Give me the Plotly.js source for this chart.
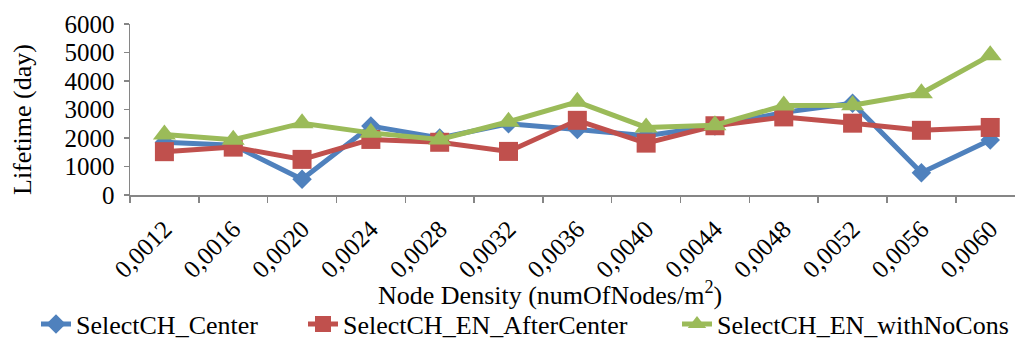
<!DOCTYPE html>
<html>
<head>
<meta charset="utf-8">
<script src="https://cdn.plot.ly/plotly-3.0.1.min.js"></script>
<style>html,body{margin:0;padding:0;background:#fff;}#chart{width:1016px;height:341px;}</style>
</head>
<body>
<div id="chart"></div>
<script>
const categories = ["0,0012","0,0016","0,0020","0,0024","0,0028","0,0032","0,0036","0,0040","0,0044","0,0048","0,0052","0,0056","0,0060"];
const selectCenter = [1850, 1750, 550, 2420, 2000, 2500, 2300, 2080, 2420, 2900, 3220, 780, 1930];
const selectAfterCenter = [1520, 1680, 1250, 1950, 1850, 1530, 2620, 1820, 2430, 2740, 2520, 2270, 2370];
const selectNoCons = [2120, 1940, 2520, 2180, 1950, 2570, 3270, 2370, 2450, 3140, 3150, 3570, 4900];
const seriesNames = ["SelectCH_Center", "SelectCH_EN_AfterCenter", "SelectCH_EN_withNoCons"];
const xTitle = "Node Density (numOfNodes/m<sup>2</sup>)";
const yTitle = "Lifetime (day)";

const font = {family: "Liberation Serif", color: "#000"};
const traces = [
  {x: categories, y: selectCenter, name: seriesNames[0], type: "scatter", mode: "lines+markers", legend: "legend",
   line: {color: "#4F81BD", width: 5}, marker: {symbol: "diamond", size: 15, color: "#4F81BD"}},
  {x: categories, y: selectAfterCenter, name: seriesNames[1], type: "scatter", mode: "lines+markers", legend: "legend2",
   line: {color: "#C0504D", width: 5}, marker: {symbol: "square", size: 19, color: "#C0504D"}},
  {x: categories, y: selectNoCons, name: seriesNames[2], type: "scatter", mode: "lines+markers", legend: "legend3",
   line: {color: "#9BBB59", width: 5}, marker: {symbol: "triangle-up", size: 20, color: "#9BBB59"}}
];
function leg(xpx) {
  return {orientation: "h", x: xpx / 1016, xanchor: "left", xref: "container", y: 17 / 341, yanchor: "middle",
          yref: "container", font: Object.assign({size: 26}, font), itemwidth: 30, bgcolor: "rgba(0,0,0,0)"};
}
const layout = {
  width: 1016, height: 341,
  margin: {l: 130, r: 1, t: 24, b: 146},
  paper_bgcolor: "#fff", plot_bgcolor: "#fff",
  font: Object.assign({size: 22}, font),
  showlegend: true,
  legend: leg(36), legend2: leg(303), legend3: leg(677),
  xaxis: {
    type: "category", range: [-0.5, 12.36], tickson: "boundaries",
    showline: true, linecolor: "#868686", linewidth: 1.5,
    ticks: "outside", ticklen: 6, tickcolor: "#868686", tickwidth: 1.5,
    showgrid: false, zeroline: false, tickangle: -45, ticklabelstandoff: 8,
    tickfont: Object.assign({size: 25}, font)
  },
  yaxis: {
    range: [0, 6000], dtick: 1000, tick0: 0,
    showline: true, linecolor: "#868686", linewidth: 1.5,
    ticks: "outside", ticklen: 5, tickcolor: "#868686", tickwidth: 1.5,
    showgrid: false, zeroline: false, ticklabelstandoff: 4,
    tickfont: Object.assign({size: 25}, font)
  },
  annotations: [
    {text: xTitle, xref: "paper", yref: "paper", x: (550 - 130) / 885, y: -(293 - 195) / 171,
     xanchor: "center", yanchor: "middle", showarrow: false, font: Object.assign({size: 26}, font)},
    {text: yTitle, xref: "paper", yref: "paper", x: -(130 - 22) / 885, y: (195 - 120) / 171,
     xanchor: "center", yanchor: "middle", textangle: -90, showarrow: false, font: Object.assign({size: 26}, font)}
  ]
};
Plotly.newPlot("chart", traces, layout, {displayModeBar: false, staticPlot: true});
</script>
</body>
</html>
